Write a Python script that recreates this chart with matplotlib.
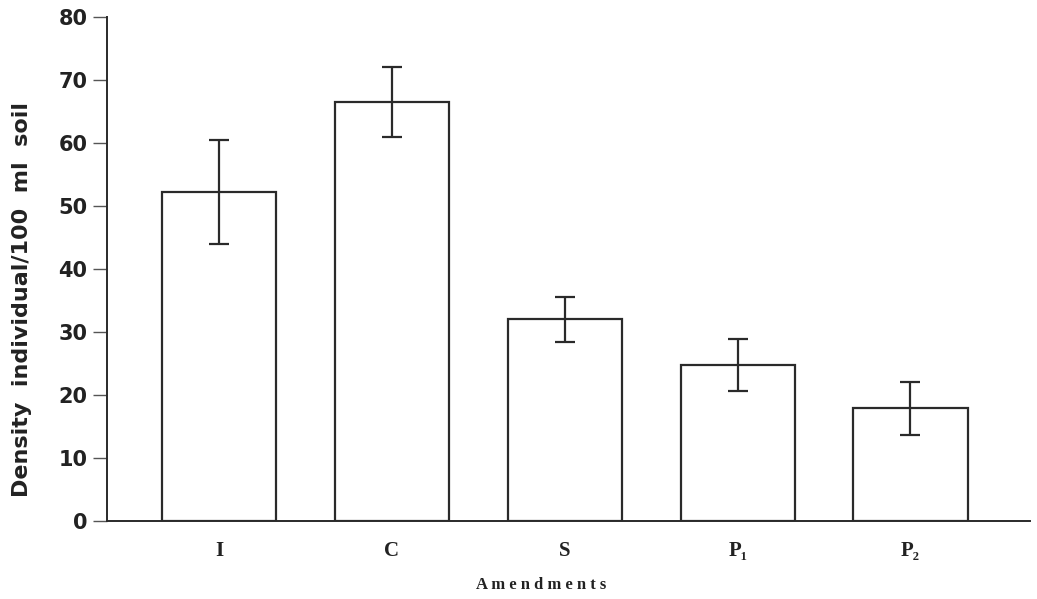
import matplotlib
matplotlib.use("Agg")
import matplotlib.pyplot as plt

categories = ["I", "C", "S", "P\u2081", "P\u2082"]
means = [52.2, 66.5, 32.0, 24.7, 17.9]
err_low = [8.2, 5.5, 3.6, 4.1, 4.3]
err_high = [8.3, 5.6, 3.5, 4.2, 4.1]
yticks = [0, 10, 20, 30, 40, 50, 60, 70, 80]

plt.rcParams['font.family'] = ['Liberation Serif', 'DejaVu Serif']

fig = plt.figure(figsize=(10.37, 5.99), dpi=100)
ax = fig.add_axes([0.103, 0.130, 0.890, 0.842])

x = list(range(len(categories)))
ax.bar(x, means, width=0.66, facecolor='white', edgecolor='#2a2a2a', linewidth=1.6)
ax.errorbar(x, means, yerr=[err_low, err_high], fmt='none', ecolor='#2a2a2a',
            elinewidth=1.6, capsize=7, capthick=1.6)

ax.set_xlim(-0.65, 4.69)
ax.set_ylim(0, 80)
ax.set_yticks(yticks)
ax.set_yticklabels([str(v) for v in yticks], fontsize=15, fontweight='bold',
                   family=['DejaVu Sans'], color='#222222')
ax.set_xticks(x)
ax.set_xticklabels(categories, fontsize=15, fontweight='bold', color='#222222')
ax.tick_params(axis='x', length=0, pad=14)
ax.tick_params(axis='y', length=10, width=1.0, color='#555555', pad=4)

for s in ['top', 'right']:
    ax.spines[s].set_visible(False)
for s in ['left', 'bottom']:
    ax.spines[s].set_linewidth(1.4)
    ax.spines[s].set_color('#2a2a2a')

fig.text(0.021, 0.50, "Density  individual/100  ml  soil", rotation=90,
         fontsize=16, fontweight='bold', family=['DejaVu Sans'],
         ha='center', va='center', color='#222222')
fig.text(0.522, 0.023, "A m e n d m e n t s", fontsize=12, fontweight='bold',
         ha='center', va='center', color='#222222')

fig.savefig("out.png", dpi=100)
